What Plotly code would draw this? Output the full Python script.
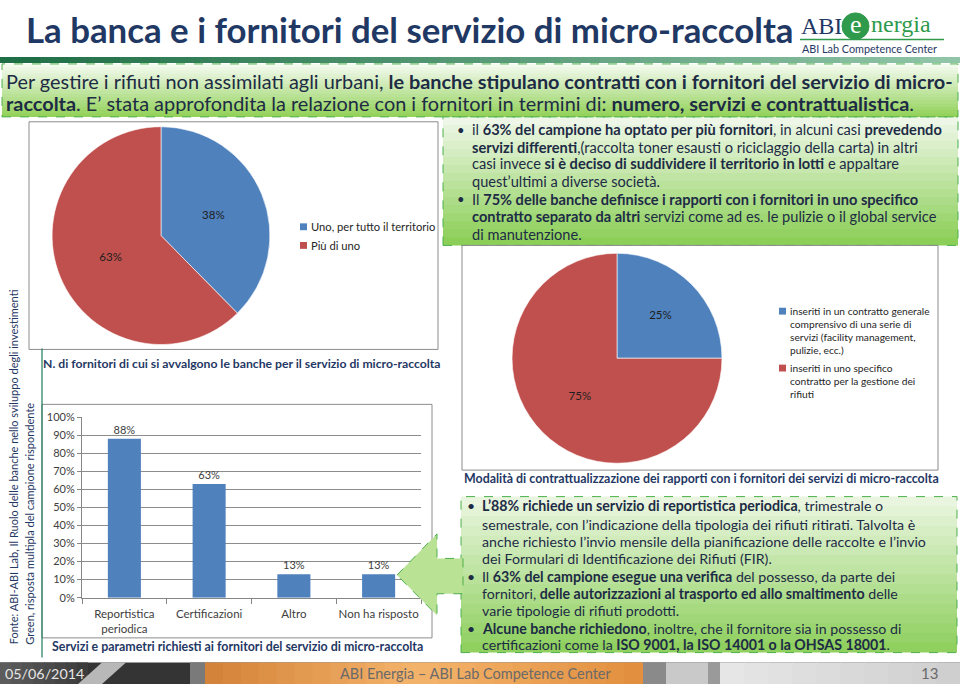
import plotly.graph_objects as go

# ---------------- data ----------------
pie1_labels = ["Uno, per tutto il territorio", "Più di uno"]
pie1_values = [38, 63]

pie2_labels = ["inseriti in un contratto generale<br>comprensivo di una serie di<br>servizi (facility management,<br>pulizie, ecc.)",
               "inseriti in uno specifico<br>contratto per la gestione dei<br>rifiuti"]
pie2_values = [25, 75]

bar_categories = ["Reportistica<br>periodica", "Certificazioni", "Altro", "Non ha risposto"]
bar_values = [88, 63, 13, 13]
y_ticks = [0, 10, 20, 30, 40, 50, 60, 70, 80, 90, 100]

# ---------------- helpers ----------------
W, H = 960, 690
def X(p): return p / W
def Y(p): return 1 - p / H

NAVY = "#1F3864"
TXT = "#1d2b45"
BLUE = "#4F81BD"
RED = "#C0504D"
FONT = "Lato"

shapes = []
ann = []

def hx(c):
    c = c.lstrip("#")
    return [int(c[i:i + 2], 16) for i in (0, 2, 4)]

def mix(c1, c2, t):
    a, b = hx(c1), hx(c2)
    return "#%02x%02x%02x" % tuple(int(round(a[i] + (b[i] - a[i]) * t)) for i in range(3))

def rect(x0, y0, x1, y1, fill=None, line=None, lw=1, dash=None, layer="above"):
    d = dict(type="rect", xref="paper", yref="paper", x0=X(x0), x1=X(x1), y0=Y(y1), y1=Y(y0),
             layer=layer, line=dict(width=0 if line is None else lw, color=line or "rgba(0,0,0,0)"))
    if dash:
        d["line"]["dash"] = dash
    d["fillcolor"] = fill if fill else "rgba(0,0,0,0)"
    shapes.append(d)

def vgrad(x0, y0, x1, y1, ctop, cbot, n=16, layer="below"):
    h = (y1 - y0) / n
    for i in range(n):
        t = i / (n - 1)
        rect(x0, y0 + i * h, x1, min(y1, y0 + (i + 1) * h + 0.8), fill=mix(ctop, cbot, t), layer=layer)

def hgrad(x0, y0, x1, y1, cl, cr, n=16, layer="below"):
    w = (x1 - x0) / n
    for i in range(n):
        t = i / (n - 1)
        rect(x0 + i * w, y0, min(x1, x0 + (i + 1) * w + 0.8), y1, fill=mix(cl, cr, t), layer=layer)

def text(x, y, s, size=12, color=TXT, xa="left", ya="middle", bold=False, family=FONT, angle=0):
    if bold:
        s = "<b>" + s + "</b>"
    ann.append(dict(xref="paper", yref="paper", x=X(x), y=Y(y), text=s, showarrow=False,
                    xanchor=xa, yanchor=ya, textangle=angle, align="left",
                    font=dict(family=family, size=size, color=color)))

def path(points):
    return "M " + " L ".join("%f,%f" % (X(a), Y(b)) for a, b in points) + " Z"

# ---------------- header ----------------
text(24, 23, "La banca e i fornitori del servizio di micro-raccolta", size=34.8, color=NAVY, bold=True)
# logo
text(799, 19, "ABI", size=24, color=NAVY, family="Liberation Serif")
shapes.append(dict(type="circle", xref="paper", yref="paper", x0=X(842), x1=X(869), y0=Y(33), y1=Y(6),
                   fillcolor="#2f9a4c", line=dict(color="#2f9a4c", width=1)))
text(855.5, 18, "e", size=26, color="white", xa="center", family="Liberation Serif")
text(869, 17, "nergia", size=24, color="#2f9a4c", family="Liberation Serif")
shapes.append(dict(type="line", xref="paper", yref="paper", x0=X(800), x1=X(944), y0=Y(33), y1=Y(33),
                   line=dict(color="#2f9a4c", width=1.5)))
text(800, 42, "ABI Lab Competence Center", size=10.8, color=NAVY)

# green band
hgrad(0, 51, 960, 57, "#1f6f46", "#8fc4a6", n=24)

# ---------------- intro box ----------------
vgrad(2, 58, 958, 112, "#f3faee", "#94d25c")
rect(2, 58, 958, 112, line="#4daf4a", lw=1, dash="dash")
text(4, 75, "Per gestire i rifiuti non assimilati agli urbani, <b>le banche stipulano contratti con i fornitori del servizio di micro-</b>",
     size=19.9, color=TXT)
text(4, 98, "<b>raccolta</b>. E’ stata approfondita la relazione con i fornitori in termini di: <b>numero, servizi e contrattualistica</b>.",
     size=19.9, color=TXT)

# ---------------- top-right box ----------------
vgrad(443, 112, 958, 243, "#eef7e7", "#8ccf58")
rect(443, 112, 958, 243, line="#4daf4a", lw=1, dash="dash")
tr_lines = [
    (125, True, "il <b>63% del campione ha optato per più fornitori</b>, in alcuni casi <b>prevedendo</b>"),
    (143, False, "<b>servizi differenti</b>,(raccolta toner esausti o riciclaggio della carta) in altri"),
    (160, False, "casi invece <b>si è deciso di suddividere il territorio in lotti</b> e appaltare"),
    (178, False, "quest’ultimi a diverse società."),
    (196, True, "Il <b>75% delle banche definisce i rapporti con i fornitori in uno specifico</b>"),
    (214, False, "<b>contratto separato da altri</b> servizi come ad es. le pulizie o il global service"),
    (232, False, "di manutenzione."),
]
for yy, bullet, s in tr_lines:
    if bullet:
        text(455, yy, "•", size=13, color=TXT)
    text(470, yy, s, size=14.6, color=TXT)

# ---------------- pie 1 ----------------
rect(29, 117, 438, 349, line="#8c8c8c", lw=1)
pie_colors = [BLUE, RED]
for i, lab in enumerate(pie1_labels):
    yy = 224 + 19 * i
    rect(300, yy - 3.5, 307, yy + 3.5, fill=pie_colors[i])
    text(309, yy, lab, size=11.2, color="#262626")

# ---------------- pie 2 ----------------
rect(462, 243, 938, 472, line="#8c8c8c", lw=1)
lh = 13.3
ystart = [310, 368]
for i, lab in enumerate(pie2_labels):
    yy = ystart[i]
    rect(779, yy - 3.5, 786, yy + 3.5, fill=pie_colors[i])
    for k, part in enumerate(lab.split("<br>")):
        text(788, yy + k * lh, part, size=10.2, color="#262626")

text(462, 481, "Modalità di contrattualizzazione dei rapporti con i fornitori dei servizi di micro-raccolta",
     size=12.4, color=NAVY, bold=True)

# ---------------- bar chart ----------------
rect(42, 405, 432, 643, line="#8c8c8c", lw=1)
shapes.append(dict(type="line", xref="paper", yref="paper", x0=X(42), x1=X(42), y0=Y(348), y1=Y(663),
                   line=dict(color="#1f7a5c", width=1.2)))
text(41, 363, "N. di fornitori di cui si avvalgono le banche per il servizio di micro-raccolta",
     size=12.2, color=NAVY, bold=True)
text(50, 652, "Servizi e parametri richiesti ai fornitori del servizio di micro-raccolta",
     size=12.4, color=NAVY, bold=True)

# vertical source text
text(13, 652, "Fonte: ABI-ABI Lab, Il Ruolo delle banche nello sviluppo degli investimenti",
     size=11, color=NAVY, xa="center", ya="bottom", angle=-90)
text(30, 652, "Green, risposta multipla del campione rispondente",
     size=11, color=NAVY, xa="center", ya="bottom", angle=-90)

# ---------------- bottom-right box ----------------
vgrad(461, 499, 957, 658, "#e9f5df", "#8fd05e")
rect(461, 499, 957, 658, line="#4daf4a", lw=1, dash="dash")
br_lines = [
    (508, True, "<b>L’88% richiede un servizio di reportistica periodica</b>, trimestrale o"),
    (527, False, "semestrale, con l’indicazione della tipologia dei rifiuti ritirati. Talvolta è"),
    (545, False, "anche richiesto l’invio mensile della pianificazione delle raccolte e l’invio"),
    (562, False, "dei Formulari di Identificazione dei Rifiuti (FIR)."),
    (580, True, "Il <b>63% del campione esegue una verifica</b> del possesso, da parte dei"),
    (598, False, "fornitori, <b>delle autorizzazioni al trasporto ed allo smaltimento</b> delle"),
    (615, False, "varie tipologie di rifiuti prodotti."),
    (633, True, "<b>Alcune banche richiedono</b>, inoltre, che il fornitore sia in possesso di"),
    (650, False, "certificazioni come la <b>ISO 9001, la ISO 14001 o la OHSAS 18001</b>."),
]
for yy, bullet, s in br_lines:
    if bullet:
        text(465, yy, "•", size=14, color=TXT)
    text(480, yy, s, size=14.2, color=TXT)

# arrow
shapes.append(dict(type="path", xref="paper", yref="paper", layer="above",
                   path=path([(397, 579), (437, 537), (437, 562), (463, 562), (463, 598), (437, 598), (437, 620)]),
                   fillcolor="#b9e294", line=dict(color="#4daf4a", width=1, dash="dash")))

# ---------------- footer ----------------
rect(0, 668, 960, 690, fill="#343434")
hgrad(0, 668, 88, 690, "#5c5c5c", "#3c3c3c", n=8, layer="above")
shapes.append(dict(type="path", xref="paper", yref="paper", layer="above",
                   path=path([(78, 690), (102, 668), (126, 668), (102, 690)]), fillcolor="#b8b8b8", line=dict(width=0)))
rect(190, 668, 205, 690, fill="#7a7a7a")
hgrad(205, 668, 420, 690, "#d4843a", "#f3b26a", n=12, layer="above")
hgrad(420, 668, 643, 690, "#f3b26a", "#e2903f", n=12, layer="above")
rect(643, 668, 666, 690, fill="#8a8a8a")
rect(666, 668, 708, 690, fill="#c9c9c9")
rect(708, 668, 720, 690, fill="#9a9a9a")
hgrad(720, 668, 960, 690, "#e6e6e6", "#cfcfcf", n=10, layer="above")
text(3, 679, "05/06/2014", size=14.3, color="#e6e6e6")
text(338, 679, "ABI Energia – ABI Lab Competence Center", size=14.5, color="#6a6a6a")
text(940, 679, "13", size=15, color="#6a6a6a", xa="right")

# ---------------- traces ----------------
fig = go.Figure()
fig.add_trace(go.Pie(labels=pie1_labels, values=pie1_values, sort=False, direction="clockwise", rotation=0,
                     domain=dict(x=[X(50), X(272)], y=[Y(344), Y(122)]),
                     marker=dict(colors=pie_colors, line=dict(color="white", width=0.6)),
                     texttemplate="%{value}%", textposition="inside", insidetextorientation="horizontal",
                     textfont=dict(family=FONT, size=11.5, color="#1e1e1e"), showlegend=False))
fig.add_trace(go.Pie(labels=pie2_labels, values=pie2_values, sort=False, direction="clockwise", rotation=0,
                     domain=dict(x=[X(510), X(724)], y=[Y(465), Y(251)]),
                     marker=dict(colors=pie_colors, line=dict(color="white", width=0.6)),
                     texttemplate="%{value}%", textposition="inside", insidetextorientation="horizontal",
                     textfont=dict(family=FONT, size=11.5, color="#1e1e1e"), showlegend=False))
fig.add_trace(go.Bar(x=bar_categories, y=bar_values, marker=dict(color=BLUE, line=dict(width=0)),
                     text=[f"{v}%" for v in bar_values], texttemplate="%{text}", textposition="outside",
                     cliponaxis=False,
                     textfont=dict(family=FONT, size=11, color="#404040"), showlegend=False))

fig.update_layout(
    width=W, height=H, autosize=False,
    margin=dict(l=0, r=0, t=0, b=0, pad=0),
    paper_bgcolor="white", plot_bgcolor="rgba(0,0,0,0)",
    font=dict(family=FONT),
    bargap=0.61,
    xaxis=dict(domain=[X(82), X(421)], showline=True, linecolor="#868686", linewidth=1,
               ticks="outside", tickson="boundaries", ticklen=5, tickcolor="#868686", tickangle=0,
               ticklabelstandoff=6,
               tickfont=dict(family=FONT, size=11.5, color="#404040"), showgrid=False, fixedrange=True),
    yaxis=dict(domain=[Y(602), Y(418)], range=[0, 100], tickmode="array", tickvals=y_ticks,
               ticktext=[f"{v}%" for v in y_ticks],
               showline=True, linecolor="#868686", ticks="outside", ticklen=4, tickcolor="#868686",
               gridcolor="#8c8c8c", gridwidth=1, zeroline=False,
               tickfont=dict(family=FONT, size=11, color="#404040"), fixedrange=True),
    shapes=shapes, annotations=ann,
)

fig.write_html("out.html")
